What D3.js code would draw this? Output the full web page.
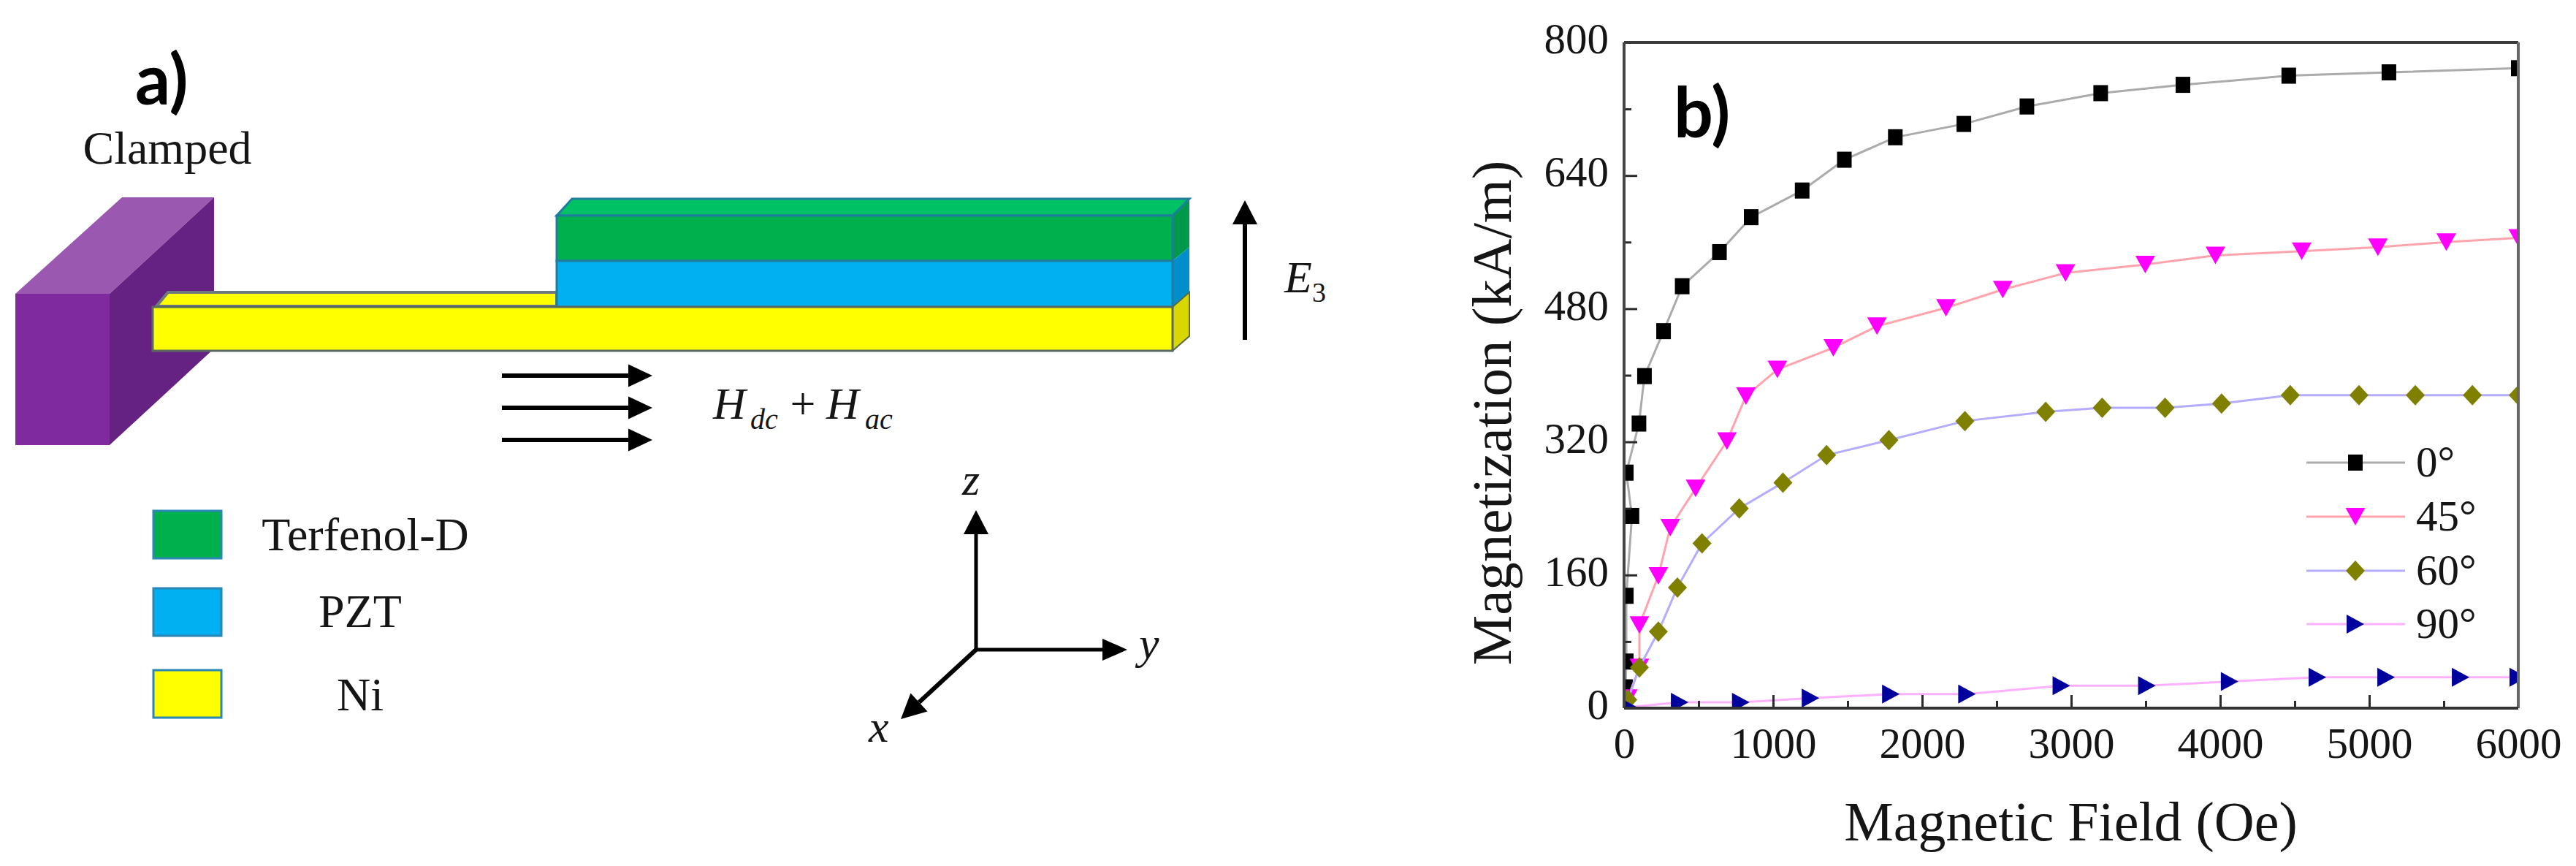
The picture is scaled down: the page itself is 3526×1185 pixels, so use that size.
<!DOCTYPE html>
<html>
<head>
<meta charset="utf-8">
<title>Cantilever and magnetization curves</title>
<script src="https://cdn.jsdelivr.net/npm/d3@7"></script>
<style>
  html, body { margin: 0; background: #fff; }
  svg { display: block; }
  text { font-family: "Liberation Serif", serif; fill: #151515; }
  .panel { font-family: Lato, sans-serif; font-weight: 700; fill: #000; }
  .it { font-style: italic; }
</style>
</head>
<body>
<svg id="fig" width="3526" height="1185"></svg>
<script>
// values
const xMajor = [0, 1000, 2000, 3000, 4000, 5000, 6000];
const xMinor = [500, 1500, 2500, 3500, 4500, 5500];
const yMajor = [0, 160, 320, 480, 640, 800];
const yMinor = [80, 240, 400, 560, 720];

const field0 = [0, 10, 15, 15, 53, 15, 100, 137, 265, 390, 640, 853, 1195, 1478, 1820, 2280, 2703, 3198, 3750, 4460, 5132, 6000];
const mag0 = [0, 25, 56, 135, 231, 283, 342, 399, 453, 507, 548, 590, 622, 659, 686, 702, 723, 739, 749, 760, 764, 769];
const field45 = [0, 25, 103, 103, 230, 310, 480, 690, 818, 1029, 1404, 1697, 2160, 2541, 2962, 3497, 3968, 4547, 5058, 5517, 6000];
const mag45 = [0, 12, 49, 100, 159, 217, 264, 321, 375, 407, 433, 459, 481, 503, 523, 533, 544, 549, 554, 560, 565];
const field60 = [0, 25, 103, 230, 358, 523, 773, 1066, 1359, 1777, 2287, 2829, 3208, 3630, 4009, 4470, 4931, 5309, 5692, 6000];
const mag60 = [0, 10, 49, 92, 145, 198, 240, 271, 304, 322, 345, 356, 361, 361, 366, 376, 376, 376, 376, 376];
const field90 = [0, 30, 373, 783, 1251, 1790, 2301, 2934, 3508, 4063, 4652, 5113, 5613, 6000];
const mag90 = [0, 1, 7, 7, 12, 17, 17, 27, 27, 32, 37, 37, 37, 37];
const seriesNames = ['0°', '45°', '60°', '90°'];
const layerNames = ['Terfenol-D', 'PZT', 'Ni'];

const svg = d3.select('#fig');

function label(x, y, str, size, cls, anchor) {
  return svg.append('text')
    .attr('x', x).attr('y', y)
    .attr('font-size', size)
    .attr('class', cls || null)
    .attr('text-anchor', anchor || 'start')
    .text(str);
}

// ---- panel a: schematic ----
function poly(points, fill, stroke, sw) {
  svg.append('path')
    .attr('d', d3.line()(points) + 'Z')
    .attr('fill', fill)
    .attr('stroke', stroke || 'none')
    .attr('stroke-width', sw || 0)
    .attr('stroke-linejoin', 'miter');
}

function arrow(x0, y0, x1, y1, headLen, headW, sw) {
  const a = Math.atan2(y1 - y0, x1 - x0);
  const bx = x1 - headLen * Math.cos(a), by = y1 - headLen * Math.sin(a);
  const nx = -Math.sin(a) * headW / 2, ny = Math.cos(a) * headW / 2;
  svg.append('line').attr('x1', x0).attr('y1', y0).attr('x2', bx).attr('y2', by)
    .attr('stroke', '#000').attr('stroke-width', sw);
  poly([[x1, y1], [bx + nx, by + ny], [bx - nx, by - ny]], '#000');
}

// clamp block
poly([[21, 402], [167, 270], [293, 270], [150, 402]], '#9a58b0');
poly([[150, 402], [293, 270], [293, 477], [150, 609]], '#662282');
poly([[21, 402], [150, 402], [150, 609], [21, 609]], '#7f2a9f');

// beam top strip
poly([[214, 419], [230, 400], [762, 400], [762, 419]], '#ffff00', '#6c7a80', 4);

// layers, side faces first
const edge = '#1f7d9e';
poly([[1605, 295], [1628, 272], [1628, 338], [1605, 357]], '#00994c');
poly([[1605, 357], [1628, 338], [1628, 400], [1605, 420]], '#008fca');
poly([[1605, 420], [1628, 400], [1628, 460], [1605, 480]], '#d8d800', '#5a6a50', 2);
poly([[762, 295], [783, 272], [1628, 272], [1605, 295]], '#00c264', edge, 3);
poly([[762, 295], [1605, 295], [1605, 357], [762, 357]], '#00b04c', edge, 3);
poly([[762, 357], [1605, 357], [1605, 420], [762, 420]], '#00b0f0', edge, 3);
poly([[209, 420], [1605, 420], [1605, 480], [209, 480]], '#ffff00', '#5a6a60', 3);

// field arrows
arrow(687, 514, 893, 514, 33, 31, 6);
arrow(687, 558, 893, 558, 33, 31, 6);
arrow(687, 602, 893, 602, 33, 31, 6);
arrow(1704, 465, 1704, 274, 33, 34, 6);

label(185, 143, 'a)', 95, 'panel');
label(229, 224, 'Clamped', 64, null, 'middle');
label(1758, 400, 'E', 62, 'it');
label(1796, 413, '3', 38);
label(976, 573, 'H', 62, 'it');
label(1027, 587, 'dc', 40, 'it');
label(1099, 573, '+', 62, null, 'middle');
label(1131, 573, 'H', 62, 'it');
label(1184, 587, 'ac', 40, 'it');

// layer legend
const layerFill = ['#00b04c', '#00b0f0', '#ffff00'];
const layerBoxY = [699, 805, 917];
const layerTextY = [753, 858, 972];
const layerTextX = [500, 493, 493];
layerNames.forEach((name, i) => {
  svg.append('rect')
    .attr('x', 210).attr('y', layerBoxY[i]).attr('width', 93).attr('height', 65)
    .attr('fill', layerFill[i]).attr('stroke', '#2a86b4').attr('stroke-width', 3);
  label(layerTextX[i], layerTextY[i], name, 64, null, 'middle');
});

// coordinate triad
arrow(1336, 889, 1336, 698, 33, 34, 5);
arrow(1336, 889, 1543, 889, 34, 30, 5);
arrow(1336, 889, 1233, 984, 34, 34, 6);
label(1317, 677, 'z', 62, 'it');
label(1559, 901, 'y', 62, 'it');
label(1189, 1015, 'x', 62, 'it');

// ---- panel b: chart ----
const plotLeft = 2223, plotRight = 3447, plotTop = 58, plotBottom = 969;
const x = d3.scaleLinear().domain([0, 6000]).range([plotLeft, plotRight]);
const y = d3.scaleLinear().domain([0, 800]).range([plotBottom, plotTop]);

const shapes = {
  square: (w, h) => `M${-w / 2},${-h / 2}H${w / 2}V${h / 2}H${-w / 2}Z`,
  down: (w, h) => `M${-w / 2},${-h / 2}H${w / 2}L0,${h / 2}Z`,
  diamond: (w, h) => `M0,${-h / 2}L${w / 2},0L0,${h / 2}L${-w / 2},0Z`,
  right: (w, h) => `M${-w / 2},${-h / 2}L${w / 2},0L${-w / 2},${h / 2}Z`
};

const seriesStyle = [
  { xs: field0, ys: mag0, line: '#ababab', fill: '#000', path: shapes.square(20, 22) },
  { xs: field45, ys: mag45, line: '#ffa4ac', fill: '#ff00ff', path: shapes.down(27, 24) },
  { xs: field60, ys: mag60, line: '#b4acff', fill: '#808000', path: shapes.diamond(26, 28) },
  { xs: field90, ys: mag90, line: '#ffb0ff', fill: '#00009c', path: shapes.right(24, 26) }
];

svg.append('clipPath').attr('id', 'plot')
  .append('rect')
  .attr('x', plotLeft).attr('y', plotTop)
  .attr('width', plotRight - plotLeft).attr('height', plotBottom - plotTop);

const lineGen = d3.line().x(d => x(d[0])).y(d => y(d[1]));
const plot = svg.append('g').attr('clip-path', 'url(#plot)');

seriesStyle.forEach(s => {
  const pts = d3.zip(s.xs, s.ys);
  plot.append('path')
    .attr('d', lineGen(pts))
    .attr('fill', 'none')
    .attr('stroke', s.line)
    .attr('stroke-width', 3);
  plot.selectAll(null)
    .data(pts.slice(1))
    .join('path')
    .attr('d', s.path)
    .attr('fill', s.fill)
    .attr('transform', d => `translate(${x(d[0])},${y(d[1])})`);
});

// axes, ticks point into the plot
function styleAxis(g) {
  g.select('.domain').remove();
  g.selectAll('line').attr('stroke', '#2a2a2a').attr('stroke-width', 3);
  g.selectAll('text').attr('font-size', 59).attr('fill', '#151515')
    .attr('font-family', '"Liberation Serif", serif');
}

svg.append('g').attr('transform', `translate(0,${plotBottom})`)
  .call(d3.axisBottom(x).tickValues(xMajor).tickFormat(d3.format('d')).tickSizeInner(-18).tickPadding(26))
  .call(styleAxis);
svg.append('g').attr('transform', `translate(0,${plotBottom})`)
  .call(d3.axisBottom(x).tickValues(xMinor).tickFormat('').tickSizeInner(-10))
  .call(styleAxis);
svg.append('g').attr('transform', `translate(${plotLeft},0)`)
  .call(d3.axisLeft(y).tickValues(yMajor).tickFormat(d3.format('d')).tickSizeInner(-18).tickPadding(21))
  .call(styleAxis)
  .selectAll('text').attr('dy', '0.25em');
svg.append('g').attr('transform', `translate(${plotLeft},0)`)
  .call(d3.axisLeft(y).tickValues(yMinor).tickFormat('').tickSizeInner(-10))
  .call(styleAxis);

// frame
svg.append('line').attr('x1', plotLeft).attr('x2', plotRight).attr('y1', plotTop).attr('y2', plotTop)
  .attr('stroke', '#3a3a3a').attr('stroke-width', 4);
svg.append('line').attr('x1', plotRight).attr('x2', plotRight).attr('y1', plotTop).attr('y2', plotBottom)
  .attr('stroke', '#666').attr('stroke-width', 4);
svg.append('line').attr('x1', plotLeft).attr('x2', plotLeft).attr('y1', plotTop).attr('y2', plotBottom)
  .attr('stroke', '#444').attr('stroke-width', 4);
svg.append('line').attr('x1', plotLeft).attr('x2', plotRight).attr('y1', plotBottom).attr('y2', plotBottom)
  .attr('stroke', '#333').attr('stroke-width', 4);

// axis titles
label((2523 + 3146) / 2, 1150, 'Magnetic Field (Oe)', 76, null, 'middle');
svg.append('text')
  .attr('transform', 'translate(2068,565) rotate(-90)')
  .attr('font-size', 77)
  .attr('text-anchor', 'middle')
  .text('Magnetization (kA/m)');

label(2291, 188, 'b)', 95, 'panel');

// series legend
const legendY = [633, 707, 781, 854];
seriesNames.forEach((name, i) => {
  const s = seriesStyle[i];
  svg.append('line')
    .attr('x1', 3157).attr('x2', 3292).attr('y1', legendY[i]).attr('y2', legendY[i])
    .attr('stroke', s.line).attr('stroke-width', 3);
  svg.append('path')
    .attr('d', s.path).attr('fill', s.fill)
    .attr('transform', `translate(3224,${legendY[i]})`);
  label(3307, legendY[i] + 19, name, 59);
});
</script>
</body>
</html>
